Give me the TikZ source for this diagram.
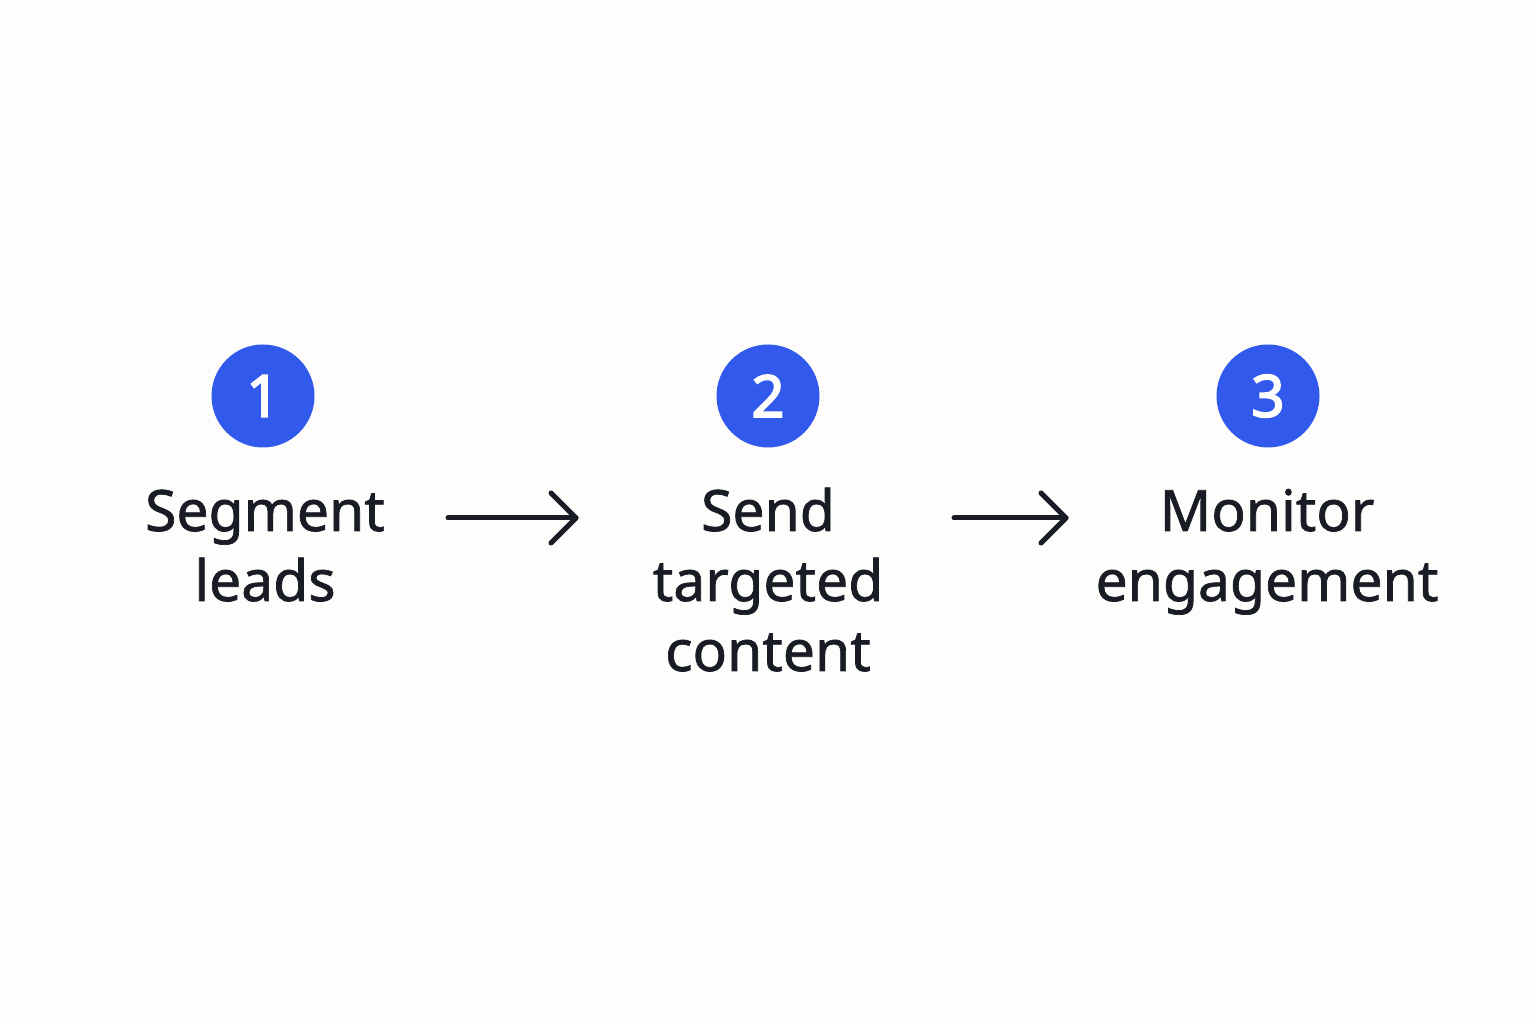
\documentclass[tikz,border=0pt]{standalone}
\usepackage{fontspec}
\usetikzlibrary{calc}
\setmainfont{Noto Sans}
\newfontfamily\labelfont{Noto Sans}[FakeBold=1.2]
\newfontfamily\numfont{Noto Sans}[FakeBold=3]
\definecolor{bg}{HTML}{FDFDFC}
\definecolor{stepblue}{HTML}{3159EC}
\definecolor{ink}{HTML}{191C25}
\begin{document}
\begin{tikzpicture}[x=1pt,y=1pt,
  numcircle/.style={circle,fill=stepblue,draw=none,minimum size=103pt,inner sep=0pt,text=white,font=\numfont\fontsize{58}{58}\selectfont},
  label/.style={text=ink,align=center,inner sep=0pt,anchor=base,font=\labelfont\fontsize{57}{70}\selectfont},
  flow/.style={draw=ink,line width=5pt,line cap=round,line join=round}]
\fill[bg] (0,0) rectangle (1536,1024);
\useasboundingbox (0,0) rectangle (1536,1024);
\node[numcircle] (c1) at (263,628) {1};
\node[numcircle] (c2) at (768,628) {2};
\node[numcircle] (c3) at (1268,628) {3};
\node[label] (t1) at (265,423) {Segment\\leads};
\node[label] (t2) at (768,353) {Send\\targeted\\content};
\node[label] (t3) at (1267,423) {Monitor\\engagement};
\coordinate (a1s) at (448,506);
\coordinate (a1e) at (576,506);
\coordinate (a2s) at (954,506);
\coordinate (a2e) at (1066,506);
\draw[flow] (a1s) -- (a1e);
\draw[flow] ($(a1e)+(-25,25)$) -- (a1e) -- ($(a1e)+(-25,-25)$);
\draw[flow] (a2s) -- (a2e);
\draw[flow] ($(a2e)+(-25,25)$) -- (a2e) -- ($(a2e)+(-25,-25)$);
\end{tikzpicture}
\end{document}
